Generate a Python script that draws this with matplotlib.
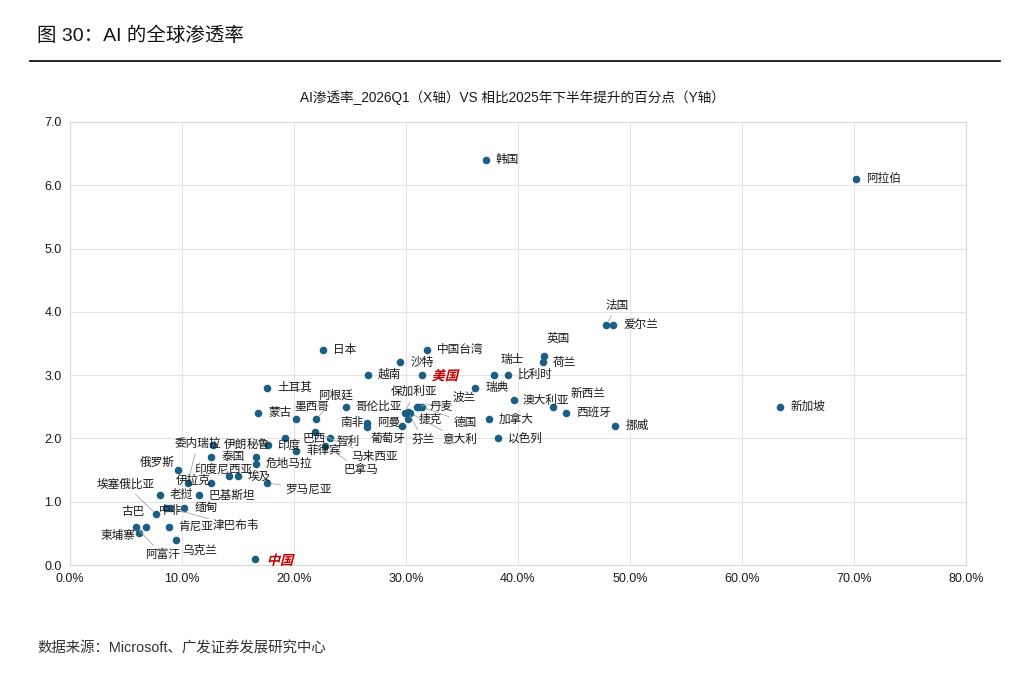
import matplotlib
matplotlib.use("Agg")
import matplotlib.pyplot as plt
from matplotlib.ticker import FuncFormatter, MultipleLocator
from matplotlib.textpath import TextPath
from matplotlib.patches import PathPatch
from matplotlib.font_manager import FontProperties
from matplotlib.transforms import Affine2D

plt.rcParams['font.family'] = ['Liberation Sans', 'Noto Sans CJK SC', 'DejaVu Sans']
plt.rcParams['axes.unicode_minus'] = False

# 数据：AI渗透率_2026Q1(%) 与 相比2025H2 提升的百分点
countries = ['韩国', '阿拉伯', '法国', '爱尔兰', '英国', '荷兰', '瑞士', '比利时', '瑞典',
             '澳大利亚', '新西兰', '西班牙', '挪威', '加拿大', '以色列', '新加坡',
             '日本', '中国台湾', '沙特', '越南', '美国', '哥伦比亚', '保加利亚', '波兰',
             '丹麦', '德国', '捷克', '芬兰', '意大利', '葡萄牙', '阿曼', '南非',
             '智利', '巴拿马', '马来西亚', '菲律宾', '巴西', '印度', '土耳其', '蒙古',
             '墨西哥', '阿根廷', '委内瑞拉', '伊拉克', '伊朗', '泰国', '秘鲁', '危地马拉',
             '印度尼西亚', '埃及', '罗马尼亚', '俄罗斯', '老挝', '巴基斯坦', '古巴',
             '埃塞俄比亚', '中非', '津巴布韦', '缅甸', '肯尼亚', '阿富汗', '柬埔寨',
             '乌克兰', '中国']
ai_share = [37.1, 70.2, 47.9, 48.5, 42.3, 42.2, 37.9, 39.1, 36.2,
            39.6, 43.1, 44.3, 48.7, 37.4, 38.2, 63.4,
            22.6, 31.9, 29.5, 26.6, 31.4, 24.6, 29.9, 31.0,
            31.2, 31.4, 30.2, 30.2, 30.4, 29.6, 26.5, 26.5,
            23.2, 22.8, 21.9, 20.2, 19.2, 17.7, 17.6, 16.8,
            20.2, 22.0, 10.5, 12.6, 12.8, 12.6, 16.6, 16.6,
            14.2, 15.0, 17.6, 9.6, 8.0, 11.5, 6.8,
            7.7, 8.6, 8.9, 10.2, 8.8, 5.9, 6.2,
            9.5, 16.5]
gain = [6.4, 6.1, 3.8, 3.8, 3.3, 3.2, 3.0, 3.0, 2.8,
        2.6, 2.5, 2.4, 2.2, 2.3, 2.0, 2.5,
        3.4, 3.4, 3.2, 3.0, 3.0, 2.5, 2.4, 2.5,
        2.5, 2.5, 2.3, 2.42, 2.4, 2.2, 2.25, 2.18,
        2.0, 1.88, 2.1, 1.8, 2.0, 1.9, 2.8, 2.4,
        2.3, 2.3, 1.3, 1.3, 1.9, 1.7, 1.7, 1.6,
        1.4, 1.4, 1.3, 1.5, 1.1, 1.1, 0.6,
        0.8, 0.9, 0.9, 0.9, 0.6, 0.6, 0.5,
        0.4, 0.1]

# 标签偏移（像素），默认在点右侧
label_offset = {
    '法国': (-1, 19), '英国': (3, 17), '瑞士': (6, 15), '新西兰': (18, 13),
    '澳大利亚': (9, -1),
    '保加利亚': (-14, 21), '波兰': (35, 9), '德国': (32, -16), '芬兰': (3, -28),
    '意大利': (32, -27), '葡萄牙': (-31, -13), '南非': (-27, 4), '智利': (7, -4),
    '巴拿马': (18, -24), '马来西亚': (36, -25), '墨西哥': (-2, 12), '阿根廷': (2, 24),
    '巴西': (17, -1), '印度': (9, -1),
    '委内瑞拉': (-13, 39), '伊拉克': (-35, 2), '秘鲁': (-9, 13), '印度尼西亚': (-35, 7),
    '罗马尼亚': (18, -7), '俄罗斯': (-38, 7), '古巴': (-25, 15), '埃塞俄比亚': (-60, 30),
    '中非': (-7, -3), '津巴布韦': (43, -18), '阿富汗': (9, -28), '柬埔寨': (-39, -3),
    '乌克兰': (6, -11), '中国': (12, -1),
}
leaders = {'法国', '保加利亚', '波兰', '德国', '芬兰', '意大利', '葡萄牙', '巴拿马',
           '马来西亚', '阿根廷', '委内瑞拉', '罗马尼亚', '埃塞俄比亚', '津巴布韦', '阿富汗'}
highlight = {'美国', '中国'}

fig = plt.figure(figsize=(10.24, 6.84), dpi=100)
ax = fig.add_axes([70 / 1024, 1 - 565 / 684, 896 / 1024, 443 / 684])

ax.scatter(ai_share, gain, s=30, color='#1c5f86', zorder=3, linewidths=0)

ax.set_xlim(0, 80)
ax.set_ylim(0, 7)
ax.xaxis.set_major_locator(MultipleLocator(10))
ax.yaxis.set_major_locator(MultipleLocator(1))
ax.xaxis.set_major_formatter(FuncFormatter(lambda v, p: f'{v:.1f}%'))
ax.yaxis.set_major_formatter(FuncFormatter(lambda v, p: f'{v:.1f}'))
ax.grid(True, color='#e3e3e3', lw=0.8)
ax.set_axisbelow(True)
for s in ax.spines.values():
    s.set_color('#d9d9d9')
    s.set_linewidth(0.8)
ax.tick_params(length=0, labelsize=9, colors='#1a1a1a', pad=6)

# 红色斜体（美国、中国）用字形路径加倾斜
hl_font = FontProperties(family='Noto Sans CJK SC', weight='bold')
hl_px = 9.5 * 100 / 72

for name, xv, yv in zip(countries, ai_share, gain):
    dx, dy = label_offset.get(name, (10, 0))
    if name in highlight:
        px, py = ax.transData.transform((xv, yv))
        tp = TextPath((0, 0), name, size=hl_px, prop=hl_font)
        tr = Affine2D().skew_deg(14, 0).translate(px + dx, py + dy - 0.38 * hl_px)
        fig.add_artist(PathPatch(tp, transform=tr, facecolor='#c00000',
                                 edgecolor='none', zorder=5))
        continue
    arrow = None
    if name in leaders:
        arrow = dict(arrowstyle='-', color='#a6a6a6', lw=0.6, shrinkA=1, shrinkB=3)
    ax.annotate(name, (xv, yv), xytext=(dx, dy), textcoords='offset pixels',
                ha='left', va='center', arrowprops=arrow, zorder=4,
                fontsize=8.4, color='#1a1a1a')

fig.text(37 / 1024, 1 - 36 / 684, '图 30：AI 的全球渗透率', fontsize=14,
         ha='left', va='center', color='#111111', fontweight='medium')
fig.add_artist(plt.Line2D([30 / 1024, 1000 / 1024], [1 - 61 / 684, 1 - 61 / 684],
                          color='#111111', lw=1.3))
fig.text(512 / 1024, 1 - 98 / 684,
         'AI渗透率_2026Q1（X轴）VS 相比2025年下半年提升的百分点（Y轴）',
         fontsize=9.8, ha='center', va='center', color='#1a1a1a')
fig.text(37 / 1024, 1 - 649 / 684, '数据来源：Microsoft、广发证券发展研究中心',
         fontsize=10.4, ha='left', va='center', color='#333333')

fig.savefig('out.png', dpi=100)
